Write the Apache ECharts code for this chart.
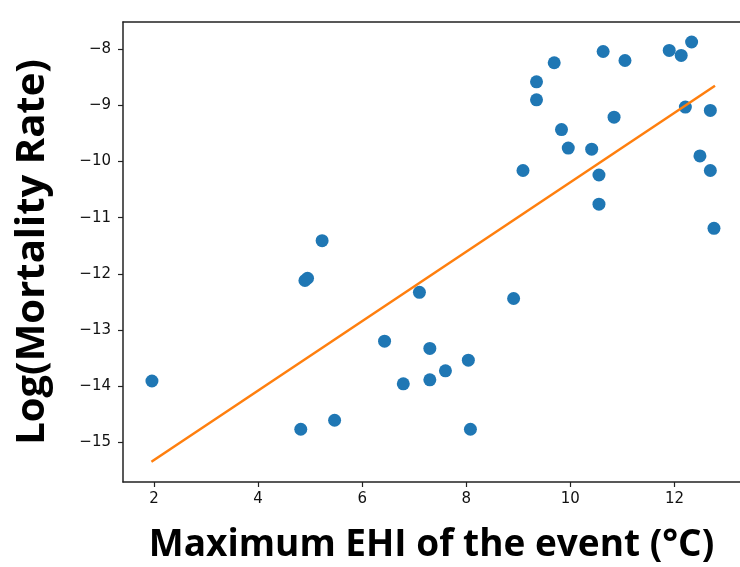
<!DOCTYPE html>
<html>
<head>
<meta charset="utf-8">
<script src="https://cdn.jsdelivr.net/npm/echarts@6/dist/echarts.min.js"></script>
<style>html,body{margin:0;padding:0;background:#fff}#c{width:740px;height:567px}</style>
</head>
<body>
<div id="c"></div>
<script>
const ehi = [1.96,4.82,4.90,4.95,5.23,5.47,6.43,6.79,7.10,7.30,7.30,7.60,8.04,8.08,8.91,9.09,9.35,9.35,9.69,9.83,9.96,10.41,10.55,10.55,10.63,10.84,11.05,11.90,12.13,12.21,12.33,12.49,12.69,12.69,12.76];
const logMort = [-13.91,-14.77,-12.12,-12.08,-11.41,-14.61,-13.20,-13.96,-12.33,-13.33,-13.89,-13.73,-13.54,-14.77,-12.44,-10.16,-8.58,-8.90,-8.24,-9.43,-9.76,-9.78,-10.24,-10.76,-8.04,-9.21,-8.20,-8.02,-8.11,-9.03,-7.87,-9.90,-9.09,-10.16,-11.19];
const fitX = [1.95, 12.78];
const fitY = [-15.35, -8.65];
const xTicks = [2,4,6,8,10,12];
const yTicks = [-15,-14,-13,-12,-11,-10,-9,-8];
const xTitle = 'Maximum EHI of the event (°C)';
const yTitle = 'Log(Mortality Rate)';

const minus = v => String(v).replace('-', '\u2212');
const chart = echarts.init(document.getElementById('c'), null, {renderer:'canvas'});
const axisLine = {show:true, onZero:false, lineStyle:{color:'#222', width:1.5}};
chart.setOption({
  animation:false,
  grid:{left:123, top:22, right:0, bottom:85, outerBoundsMode:'none', containLabel:false},
  xAxis:[{
    type:'value', min:1.404, max:13.26,
    axisLine:axisLine,
    axisTick:{show:true, length:5, customValues:xTicks, lineStyle:{color:'#222', width:1.2}},
    axisLabel:{customValues:xTicks, margin:10, color:'#111', fontSize:15, fontFamily:'DejaVu Sans', formatter:minus},
    splitLine:{show:false},
    name:xTitle, nameLocation:'middle', nameGap:45,
    nameTextStyle:{fontSize:37, fontWeight:'bold', color:'#000', fontFamily:'Open Sans'}
  },{
    type:'value', position:'top', min:1.404, max:13.26,
    axisLine:axisLine, axisTick:{show:false}, axisLabel:{show:false}, splitLine:{show:false}
  }],
  yAxis:{
    type:'value', min:-15.71, max:-7.514,
    axisLine:axisLine,
    axisTick:{show:true, length:5, customValues:yTicks, lineStyle:{color:'#222', width:1.2}},
    axisLabel:{customValues:yTicks, margin:12, color:'#111', fontSize:15, fontFamily:'DejaVu Sans', formatter:minus},
    splitLine:{show:false},
    name:yTitle, nameLocation:'middle', nameGap:70, nameRotate:90,
    nameTextStyle:{fontSize:40, fontWeight:'bold', color:'#000', fontFamily:'Open Sans'}
  },
  series:[{
    type:'scatter', symbolSize:13,
    itemStyle:{color:'#1f77b4', opacity:1},
    data: ehi.map((x,i)=>[x, logMort[i]]), z:2
  },{
    type:'line', symbol:'none',
    lineStyle:{color:'#ff7f0e', width:2.5},
    data: fitX.map((x,i)=>[x, fitY[i]]), z:3
  }]
});
</script>
</body>
</html>
